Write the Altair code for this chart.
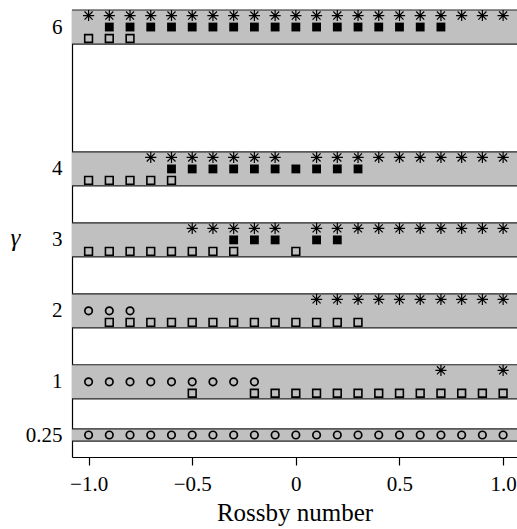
import altair as alt
import pandas as pd

# gamma levels and shaded band half-widths
gamma_levels = [0.25, 1, 2, 3, 4, 6]
band_half = [0.085, 0.24, 0.24, 0.24, 0.24, 0.24]

# Rossby numbers for each marker type, per gamma level
asterisk_ro = {
    6: [-1.0, -0.9, -0.8, -0.7, -0.6, -0.5, -0.4, -0.3, -0.2, -0.1, 0.0,
        0.1, 0.2, 0.3, 0.4, 0.5, 0.6, 0.7, 0.8, 0.9, 1.0],
    4: [-0.7, -0.6, -0.5, -0.4, -0.3, -0.2, -0.1,
        0.1, 0.2, 0.3, 0.4, 0.5, 0.6, 0.7, 0.8, 0.9, 1.0],
    3: [-0.5, -0.4, -0.3, -0.2, -0.1,
        0.1, 0.2, 0.3, 0.4, 0.5, 0.6, 0.7, 0.8, 0.9, 1.0],
    2: [0.1, 0.2, 0.3, 0.4, 0.5, 0.6, 0.7, 0.8, 0.9, 1.0],
    1: [0.7, 1.0],
}
filled_square_ro = {
    6: [-0.9, -0.8, -0.7, -0.6, -0.5, -0.4, -0.3, -0.2, -0.1, 0.0,
        0.1, 0.2, 0.3, 0.4, 0.5, 0.6, 0.7],
    4: [-0.6, -0.5, -0.4, -0.3, -0.2, -0.1, 0.0, 0.1, 0.2, 0.3],
    3: [-0.3, -0.2, -0.1, 0.1, 0.2],
}
open_square_ro = {
    6: [-1.0, -0.9, -0.8],
    4: [-1.0, -0.9, -0.8, -0.7, -0.6],
    3: [-1.0, -0.9, -0.8, -0.7, -0.6, -0.5, -0.4, -0.3, 0.0],
    2: [-0.9, -0.8, -0.7, -0.6, -0.5, -0.4, -0.3, -0.2, -0.1, 0.0,
        0.1, 0.2, 0.3],
    1: [-0.5, -0.2, -0.1, 0.0, 0.1, 0.2, 0.3, 0.4, 0.5, 0.6, 0.7,
        0.8, 0.9, 1.0],
}
circle_ro = {
    2: [-1.0, -0.9, -0.8],
    1: [-1.0, -0.9, -0.8, -0.7, -0.6, -0.5, -0.4, -0.3, -0.2],
    0.25: [-1.0, -0.9, -0.8, -0.7, -0.6, -0.5, -0.4, -0.3, -0.2, -0.1, 0.0,
           0.1, 0.2, 0.3, 0.4, 0.5, 0.6, 0.7, 0.8, 0.9, 1.0],
}

x_ticks = [-1.0, -0.5, 0.0, 0.5, 1.0]


def to_df(d):
    rows = [{"ro": r, "gamma": g} for g, lst in d.items() for r in lst]
    return pd.DataFrame(rows)


bands = pd.DataFrame({
    "gamma": gamma_levels,
    "lo": [g - h for g, h in zip(gamma_levels, band_half)],
    "hi": [g + h for g, h in zip(gamma_levels, band_half)],
})

W, H = 445, 447
FONT = "Liberation Serif"

xscale = alt.Scale(domain=[-1.08, 1.067], nice=False, zero=False)
yscale = alt.Scale(domain=[-0.06, 6.24], nice=False, zero=False)

x_axis = alt.Axis(
    values=x_ticks, title="Rossby number", grid=False,
    domainColor="black", tickColor="black", tickSize=8, tickWidth=1.2,
    domainWidth=1.2,
    labelFont=FONT, labelFontSize=21, labelColor="black", labelPadding=8,
    labelExpr="datum.value == 0 ? '0' : replace(format(datum.value, '.1f'), '-', '\u2212')",
    titleFont=FONT, titleFontSize=25, titleFontWeight="normal",
    titleColor="black", titleY=63, titleBaseline="alphabetic",
)
y_axis = alt.Axis(
    values=gamma_levels, title="\u03b3", grid=False, ticks=False,
    domainColor="black", domainWidth=1.2,
    labelFont=FONT, labelFontSize=21, labelColor="black", labelPadding=10,
    labelExpr="datum.value == 0.25 ? '0.25' : '' + datum.value",
    titleFont=FONT, titleFontSize=25, titleFontStyle="italic",
    titleFontWeight="normal", titleColor="black", titleAngle=0,
    titleX=-57, titleY=227, titleAlign="center", titleBaseline="middle",
)

x_enc = alt.X("ro:Q", scale=xscale, axis=x_axis)
y_enc = alt.Y("gamma:Q", scale=yscale, axis=y_axis)

band_rect = alt.Chart(bands).mark_rect(color="#c0c0c0").encode(
    x=alt.value(0), x2=alt.value(W),
    y=alt.Y("lo:Q", scale=yscale, axis=y_axis), y2="hi:Q",
)
band_lo = alt.Chart(bands).mark_rule(color="#222222", strokeWidth=1.2).encode(
    x=alt.value(0), x2=alt.value(W),
    y=alt.Y("lo:Q", scale=yscale, axis=y_axis),
)
band_hi = alt.Chart(bands).mark_rule(color="#222222", strokeWidth=1.2).encode(
    x=alt.value(0), x2=alt.value(W),
    y=alt.Y("hi:Q", scale=yscale, axis=y_axis),
)

ast_path = ("M-1,0L1,0M0,-1L0,1M-0.72,-0.72L0.72,0.72M-0.72,0.72L0.72,-0.72")

ast = alt.Chart(to_df(asterisk_ro)).mark_point(
    shape=ast_path, filled=False, stroke="black", strokeWidth=1.2,
    size=125, opacity=1, yOffset=-11.5,
).encode(x=x_enc, y=y_enc)

fsq = alt.Chart(to_df(filled_square_ro)).mark_point(
    shape="square", filled=True, fill="black", stroke="black", strokeWidth=0,
    size=78, opacity=1,
).encode(x=x_enc, y=y_enc)

osq = alt.Chart(to_df(open_square_ro)).mark_point(
    shape="square", filled=False, stroke="black", strokeWidth=1.6,
    size=60, opacity=1, yOffset=11.5,
).encode(x=x_enc, y=y_enc)

circ = alt.Chart(to_df(circle_ro)).mark_point(
    shape="circle", filled=False, stroke="black", strokeWidth=1.7,
    size=56, opacity=1,
).encode(x=x_enc, y=y_enc)

chart = alt.layer(band_rect, band_lo, band_hi, circ, osq, fsq, ast).properties(
    width=W, height=H,
    autosize=alt.AutoSizeParams(type="none"),
    padding={"left": 72, "top": 10, "right": 0, "bottom": 72},
).configure_view(stroke=None).configure(background="white")

chart.save("out.html", embed_options={"renderer": "svg", "actions": False})
